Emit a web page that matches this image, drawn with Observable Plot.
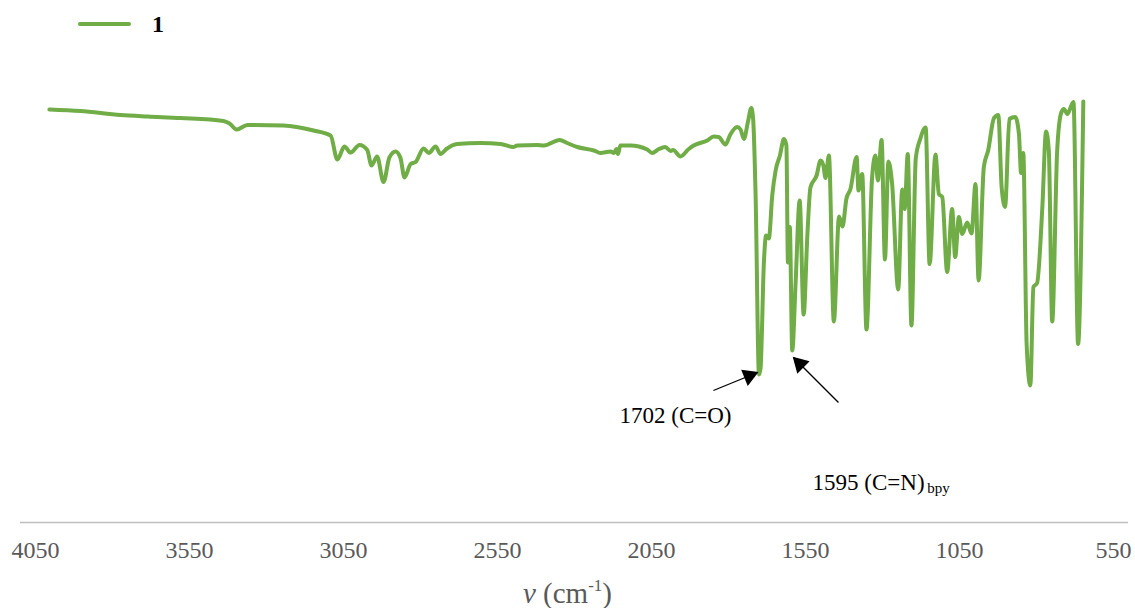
<!DOCTYPE html>
<html>
<head>
<meta charset="utf-8">
<script src="https://cdn.jsdelivr.net/npm/d3@7"></script>
<script src="https://cdn.jsdelivr.net/npm/@observablehq/plot@0.6"></script>
<style>
  body { margin: 0; background: #fff; }
  #wrap { position: relative; width: 1135px; height: 608px; overflow: hidden; font-family: "Liberation Serif", "Times New Roman", serif; }
  #chart { position: absolute; left: 0; top: 0; }
  #chart svg text { font-family: "Liberation Serif", "Times New Roman", serif !important; }
  #legend { position: absolute; left: 78px; top: 8px; height: 32px; display: flex; align-items: center; }
  #legend .swatch { width: 53px; height: 4px; background: #70ad47; border-radius: 2px; }
  #legend .name { margin-left: 21px; font-weight: bold; font-size: 24px; color: #000; }
  #xtitle { position: absolute; left: 0; width: 1135px; top: 577px; text-align: center; font-size: 29px; color: #595959; line-height: 32px; }
  #xtitle sup { font-size: 17px; vertical-align: 0; position: relative; top: -12px; }
</style>
</head>
<body>
<div id="wrap">
  <div id="chart"></div>
  <div id="legend"><div class="swatch"></div><div class="name" id="legendName"></div></div>
  <div id="xtitle"><i>v</i> (cm<sup>-1</sup>)</div>
</div>
<script>
// ---- data ----
const seriesName = "1";
const wavenumbers = [4005,3904,3774,3686,3579,3440,3420,3397,3362,3245,3147,3092,3070,3047,3027,2998,2973,2959,2941,2920,2901,2881,2865,2852,2832,2816,2790,2773,2751,2735,2716,2681,2605,2540,2499,2486,2421,2400,2348,2324,2291,2237,2216,2183,2172,2164,2159,2151,2118,2064,2048,2026,2005,1988,1980,1956,1929,1913,1869,1848,1832,1810,1794,1772,1761,1750,1737,1726,1720,1712,1701,1696,1685,1678,1669,1658,1647,1633,1620,1612,1607,1601,1593,1582,1569,1556,1544,1534,1514,1501,1492,1485,1474,1458,1441,1430,1417,1404,1384,1378,1366,1352,1334,1323,1315,1303,1292,1281,1269,1249,1236,1228,1218,1206,1192,1177,1160,1147,1128,1117,1106,1090,1074,1064,1052,1041,1025,1011,998,988,971,957,938,924,913,902,888,869,857,850,843,832,820,810,798,781,769,760,749,733,720,711,700,680,665,648];
const transmittance = [82.6,82.3,81.5,81.2,80.9,80.3,79.8,78.6,79.5,79.4,78.4,77.4,72.6,75.2,74.0,75.5,74.5,71.4,73.2,68.1,73.0,74.2,72.9,69.0,71.7,72.1,74.8,73.9,75.2,73.7,74.7,75.7,75.9,75.7,75.1,75.4,75.5,75.4,76.5,75.9,75.1,74.4,73.9,74.2,73.9,74.7,73.7,75.4,75.4,74.6,73.9,74.7,75.1,74.3,74.5,73.2,74.7,75.4,76.4,77.2,77.1,75.6,77.6,79.1,78.6,76.7,80.1,82.9,80.7,65.4,29.6,30.8,52.1,57.4,56.8,65.4,70.4,73.4,76.7,75.4,52.0,59.1,34.4,48.1,64.4,41.6,57.4,67.0,69.4,72.4,71.4,68.9,73.4,40.2,61.2,59.2,64.8,66.7,73.1,66.4,69.7,38.6,68.8,73.4,68.4,76.5,52.6,72.2,67.9,46.6,66.6,62.7,73.7,39.4,72.8,76.8,79.0,51.7,73.6,65.7,65.1,50.1,62.7,53.1,61.1,57.7,60.0,57.8,67.7,48.4,71.1,74.4,80.9,81.5,66.9,63.1,80.7,81.1,77.7,69.9,73.9,35.6,27.4,47.1,47.9,63.1,78.2,74.4,40.2,74.2,81.9,82.7,81.7,84.1,35.7,84.2];
const xTicks = [4050,3550,3050,2550,2050,1550,1050,550];
const xDomain = [4050, 550];
const axisExtent = [4099, 501];
const arrowStarts = [{w: 1849, t: 26.4}, {w: 1443, t: 24.0}];
const arrowTips = [{w: 1706, t: 30.0, rot: 68, dx: -8.3, dy: 3.4}, {w: 1589, t: 33.0, rot: -45, dx: 6.4, dy: 6.4}];
const labels = [{w: 1972, t: 21.4, text: "1702 (C=O)", anchor: "middle"}, {w: 1527, t: 8.0, text: "1595 (C=N)", anchor: "start"}];
const subLabels = [{w: 1155, t: 6.8, text: "bpy"}];

// ---- build ----
document.getElementById("legendName").textContent = seriesName;
const spectrum = wavenumbers.map((w, i) => ({w, t: transmittance[i]}));
const arrows = arrowStarts.map((s, i) => ({x1: s.w, y1: s.t, x2: arrowTips[i].w, y2: arrowTips[i].t}));
const serif = "'Liberation Serif', 'Times New Roman', serif";

const marks = [
  Plot.ruleY([0], {x1: axisExtent[0], x2: axisExtent[1], stroke: "#bfbfbf", strokeWidth: 1.5}),
  Plot.axisX({ticks: xTicks, tickSize: 0, tickPadding: 18, fontSize: 24, fill: "#595959", fontFamily: serif, label: null, tickFormat: d => String(d)}),
  Plot.line(spectrum, {x: "w", y: "t", stroke: "#70ad47", strokeWidth: 4, curve: "monotone-x", strokeLinejoin: "round", strokeLinecap: "round"}),
  Plot.link(arrows, {x1: "x1", y1: "y1", x2: "x2", y2: "y2", stroke: "#000", strokeWidth: 1.3}),
];
arrowTips.forEach(a => {
  marks.push(Plot.dot([a], {x: "w", y: "t", symbol: "triangle", r: 6.5, fill: "#000", stroke: "none", rotate: a.rot, dx: a.dx, dy: a.dy}));
});
labels.forEach(l => {
  marks.push(Plot.text([l], {x: "w", y: "t", text: "text", textAnchor: l.anchor, fontSize: 23, fill: "#000", fontFamily: serif}));
});
marks.push(Plot.text(subLabels, {x: "w", y: "t", text: "text", textAnchor: "start", fontSize: 15, fill: "#000", fontFamily: serif}));

const chart = Plot.plot({
  width: 1135,
  height: 608,
  marginLeft: 35,
  marginRight: 22,
  marginTop: 22,
  marginBottom: 86,
  style: {fontFamily: serif, background: "transparent", overflow: "visible"},
  x: {domain: xDomain, axis: null},
  y: {domain: [0, 100], axis: null},
  marks
});
document.getElementById("chart").appendChild(chart);
</script>
</body>
</html>
